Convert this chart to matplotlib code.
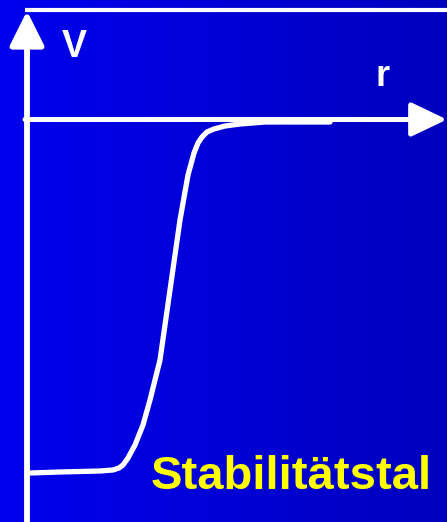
import numpy as np
import matplotlib
matplotlib.use("Agg")
import matplotlib.pyplot as plt

# curve of the potential (pixel coordinates of the picture, y grows downward)
kurve_r = [30, 60, 100, 113, 119, 123, 128, 135, 143, 150, 160, 170, 180, 188, 194, 198, 202, 207, 214, 225, 240, 265, 330]
kurve_v = [473, 472, 471, 470, 468, 465, 458, 445, 425, 400, 360, 290, 220, 175, 153, 143, 137, 132, 129, 126, 124, 122, 122]

label_v = "V"
label_r = "r"
titel = "Stabilitätstal"

W, H = 447, 522
fig = plt.figure(figsize=(W / 100, H / 100), dpi=100)
ax = fig.add_axes([0, 0, 1, 1])
ax.set_xlim(0, W)
ax.set_ylim(H, 0)
ax.axis("off")

# blue background, lighter on the left
grad = np.linspace(0, 1, 256)
farben = np.zeros((1, 256, 3))
farben[0, :, 2] = (238 - 48 * grad) / 255.0
ax.imshow(farben, extent=[0, W, H, 0], aspect="auto", zorder=0)

# frame line at top
ax.plot([25, W], [9.5, 9.5], color="white", lw=3, solid_capstyle="butt", zorder=2)

# axes with arrows
ax.annotate("", xy=(27, 11), xytext=(27, H),
            arrowprops=dict(arrowstyle="-|>,head_length=2.1,head_width=1.05",
                            color="white", lw=4.2, shrinkA=0, shrinkB=0), zorder=3)
ax.annotate("", xy=(447, 119.5), xytext=(25, 119.5),
            arrowprops=dict(arrowstyle="-|>,head_length=2.2,head_width=1.05",
                            color="white", lw=3.6, shrinkA=0, shrinkB=0), zorder=3)

ax.plot(kurve_r, kurve_v, color="white", lw=3.8, solid_capstyle="round",
        solid_joinstyle="round", zorder=4)

ax.text(74, 47, label_v, color="white", fontsize=27, fontweight="bold",
        family="Liberation Sans", ha="center", va="center")
ax.text(383, 76, label_r, color="white", fontsize=26, fontweight="bold",
        family="Liberation Sans", ha="center", va="center")
ax.text(291, 477, titel, color="#FFFF00", fontsize=34, fontweight="bold",
        family="Liberation Sans", ha="center", va="center")

fig.savefig("out.png", dpi=100)
